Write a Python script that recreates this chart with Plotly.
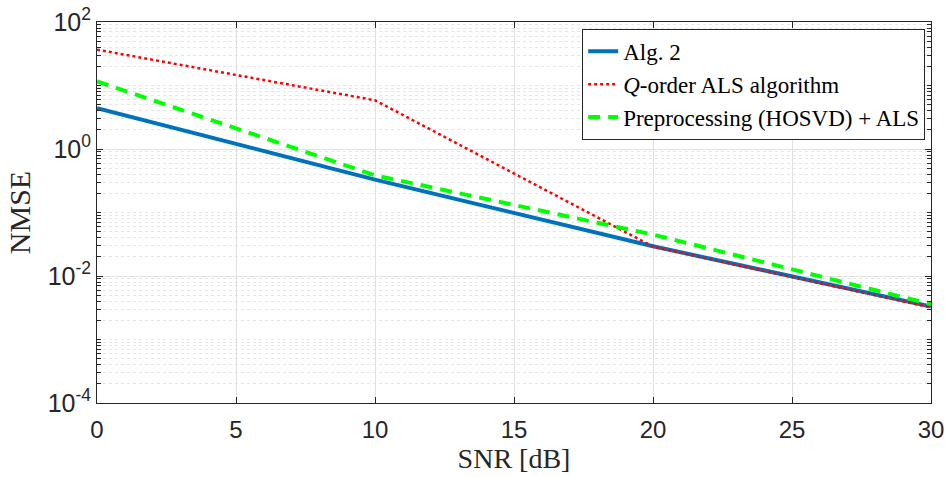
import plotly.graph_objects as go

snr = [0, 10, 20, 30]
alg2 = [4.4, 0.33, 0.0294, 0.0033]
qorder_als = [36.7, 5.85, 0.029, 0.0032]
hosvd_als = [11.6, 0.385, 0.045, 0.0036]

serif = "Liberation Serif"
sans = "Liberation Sans"

fig = go.Figure()
fig.add_trace(go.Scatter(x=snr, y=alg2, mode="lines", name="Alg. 2",
                         line=dict(color="#0072BD", width=4)))
fig.add_trace(go.Scatter(x=snr, y=qorder_als, mode="lines", name="<i>Q</i>-order ALS algorithm",
                         line=dict(color="#FF0000", width=2.5, dash="dot")))
fig.add_trace(go.Scatter(x=snr, y=hosvd_als, mode="lines", name="Preprocessing (HOSVD) + ALS",
                         line=dict(color="#00FF00", width=4, dash="12px,8px")))

fig.update_layout(
    width=949, height=477,
    margin=dict(l=97, r=18, t=22, b=74),
    plot_bgcolor="white", paper_bgcolor="white",
    showlegend=True,
    legend=dict(x=0.993, y=0.982, xanchor="right", yanchor="top",
                bgcolor="white", bordercolor="#262626", borderwidth=1,
                font=dict(family=serif, size=23, color="black"),
                tracegroupgap=0, itemwidth=30),
)
fig.update_xaxes(
    range=[0, 30], tickvals=[0, 5, 10, 15, 20, 25, 30],
    automargin=False,
    ticks="inside", ticklen=6, tickcolor="#262626",
    showline=True, linecolor="#262626", linewidth=1, mirror="ticks",
    showgrid=True, gridcolor="#E1E1E1", gridwidth=1, zeroline=False,
    tickfont=dict(family=sans, size=24, color="#262626"),
    ticklabeloverflow="allow", ticklabelstandoff=5,
    title=dict(text="SNR [dB]", font=dict(family=serif, size=28, color="#262626"), standoff=6),
)
fig.update_yaxes(
    type="log", range=[-4, 2],
    automargin=False,
    tickvals=[1e-4, 1e-2, 1, 1e2],
    ticktext=["10<sup>-4</sup>", "10<sup>-2</sup>", "10<sup>0</sup>", "10<sup>2</sup>"],
    ticks="inside", ticklen=6, tickcolor="#262626",
    showline=True, linecolor="#262626", linewidth=1, mirror="ticks",
    showgrid=True, gridcolor="#E1E1E1", gridwidth=1, zeroline=False,
    minor=dict(dtick="D1", ticks="inside", ticklen=4, tickcolor="#262626",
               showgrid=True, gridcolor="#E6E6E6", griddash="dot", gridwidth=1),
    tickfont=dict(family=sans, size=25, color="#262626"),
    ticklabeloverflow="allow",
    title=dict(text="NMSE", font=dict(family=serif, size=30, color="#262626"), standoff=8),
)

fig.write_html(
    "out.html",
    config={"displayModeBar": False},
    post_script="document.body.style.margin='0';document.body.style.overflow='hidden';",
)
